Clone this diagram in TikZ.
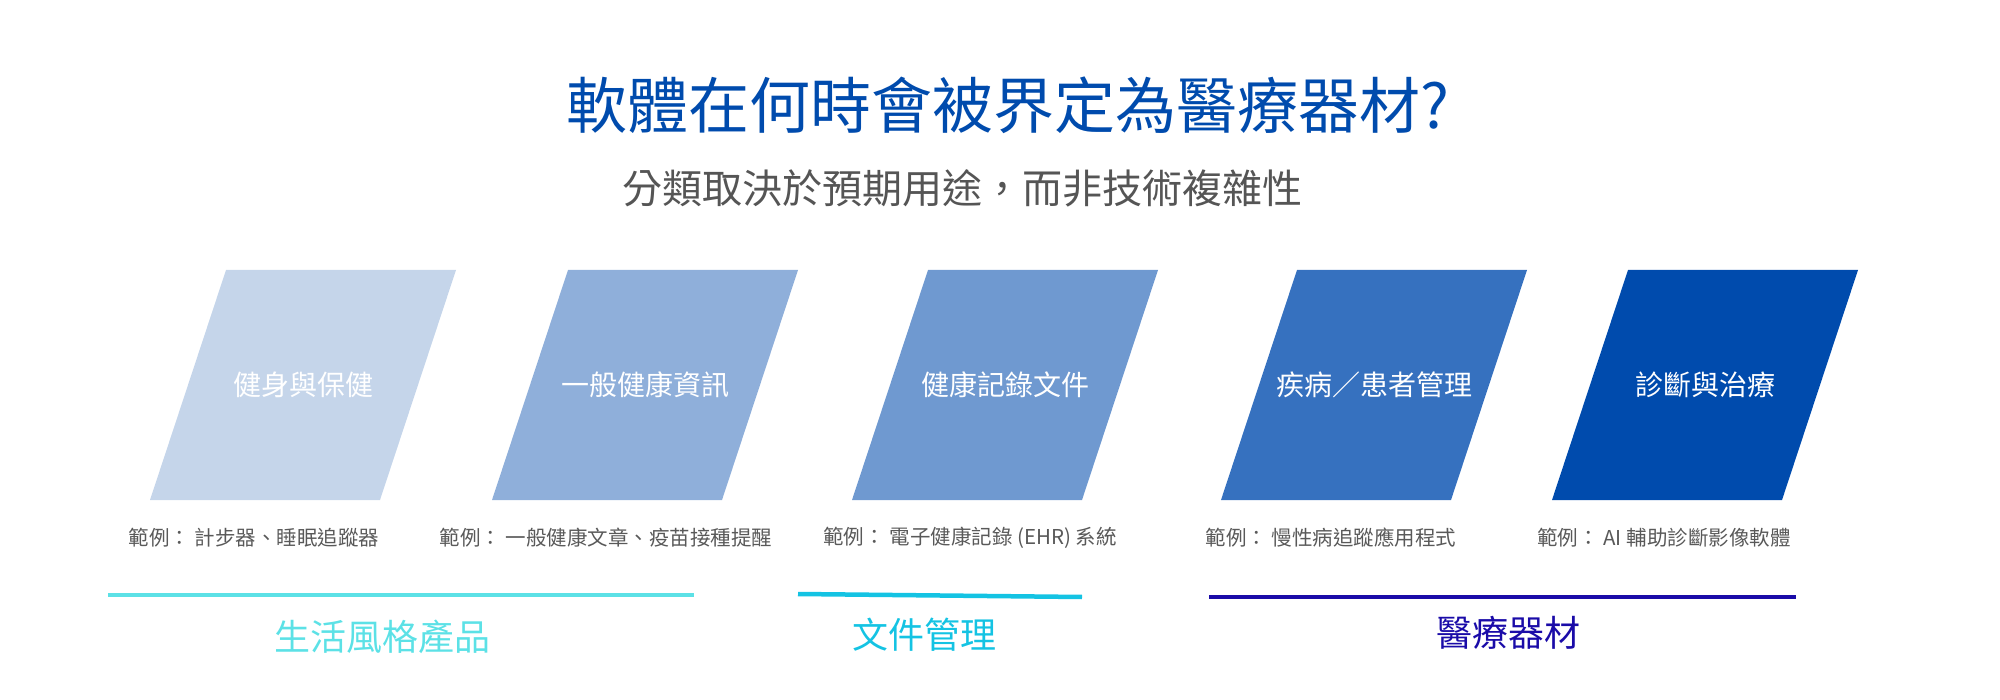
\documentclass[tikz,border=0pt]{standalone}
\usepackage{fontspec}
\setmainfont{Noto Sans CJK TC}
\usepackage{tikz}

\definecolor{titleblue}{HTML}{004BAD}
\definecolor{subgray}{HTML}{555555}
\definecolor{egray}{HTML}{595959}
\definecolor{fillA}{HTML}{C5D5EA}
\definecolor{fillB}{HTML}{8FAFDA}
\definecolor{fillC}{HTML}{6F99D0}
\definecolor{fillD}{HTML}{3671BF}
\definecolor{fillE}{HTML}{004BAD}
\definecolor{lifecyan}{HTML}{5CE1E6}
\definecolor{doccyan}{HTML}{14C3E3}
\definecolor{medindigo}{HTML}{1A0BA8}

\begin{document}
\begin{tikzpicture}[x=1pt, y=-1pt,
  kindtext/.style={text=white, inner sep=0pt, font=\fontsize{28}{34}\selectfont},
  egtext/.style={text=egray, inner sep=0pt, font=\fontsize{20.5}{25}\selectfont},
  grouptext/.style={inner sep=0pt, font=\fontsize{36}{42}\selectfont},
  groupline/.style={line width=4.5pt}]

\useasboundingbox (0,0) rectangle (2000,700);

% Title
\node[text=titleblue, inner sep=0pt, font=\fontsize{61}{70}\selectfont] (title) at (1008, 105) {軟體在何時會被界定為醫療器材?};

% Subtitle
\node[text=subgray, inner sep=0pt, font=\fontsize{40}{48}\selectfont] (subtitle) at (962, 188) {分類取決於預期用途，而非技術複雜性};

% Fitness
\fill[fillA] (226,270) -- (456,270) -- (380,500) -- (150,500) -- cycle;
\node[kindtext] (fitness) at (303, 385) {健身與保健};
\node[egtext] (egfitness) at (254, 538) {範例： 計步器、睡眠追蹤器};

% General info
\fill[fillB] (568,270) -- (798,270) -- (722,500) -- (492,500) -- cycle;
\node[kindtext] (info) at (645, 385) {一般健康資訊};
\node[egtext] (eginfo) at (606, 538) {範例： 一般健康文章、疫苗接種提醒};

% Records
\fill[fillC] (928,270) -- (1158,270) -- (1082,500) -- (852,500) -- cycle;
\node[kindtext] (records) at (1005, 385) {健康記錄文件};
\node[egtext] (egrecords) at (970, 538) {範例： 電子健康記錄 (EHR) 系統};

% Disease management
\fill[fillD] (1297,270) -- (1527,270) -- (1451,500) -- (1221,500) -- cycle;
\node[kindtext] (disease) at (1374, 385) {疾病／患者管理};
\node[egtext] (egdisease) at (1331, 538) {範例： 慢性病追蹤應用程式};

% Diagnosis
\fill[fillE] (1628,270) -- (1858,270) -- (1782,500) -- (1552,500) -- cycle;
\node[kindtext] (diagnosis) at (1705, 385) {診斷與治療};
\node[egtext] (egdiagnosis) at (1664, 538) {範例： AI 輔助診斷影像軟體};

% Groups
\draw[groupline, lifecyan] (108,595) -- (694,595);
\node[grouptext, text=lifecyan] (lifestyle) at (382, 637) {生活風格產品};

\draw[groupline, doccyan] (798,594) -- (1082,597);
\node[grouptext, text=doccyan] (docs) at (924, 635) {文件管理};

\draw[groupline, medindigo] (1209,597) -- (1796,597);
\node[grouptext, text=medindigo] (meddevice) at (1508, 633) {醫療器材};

\end{tikzpicture}
\end{document}
